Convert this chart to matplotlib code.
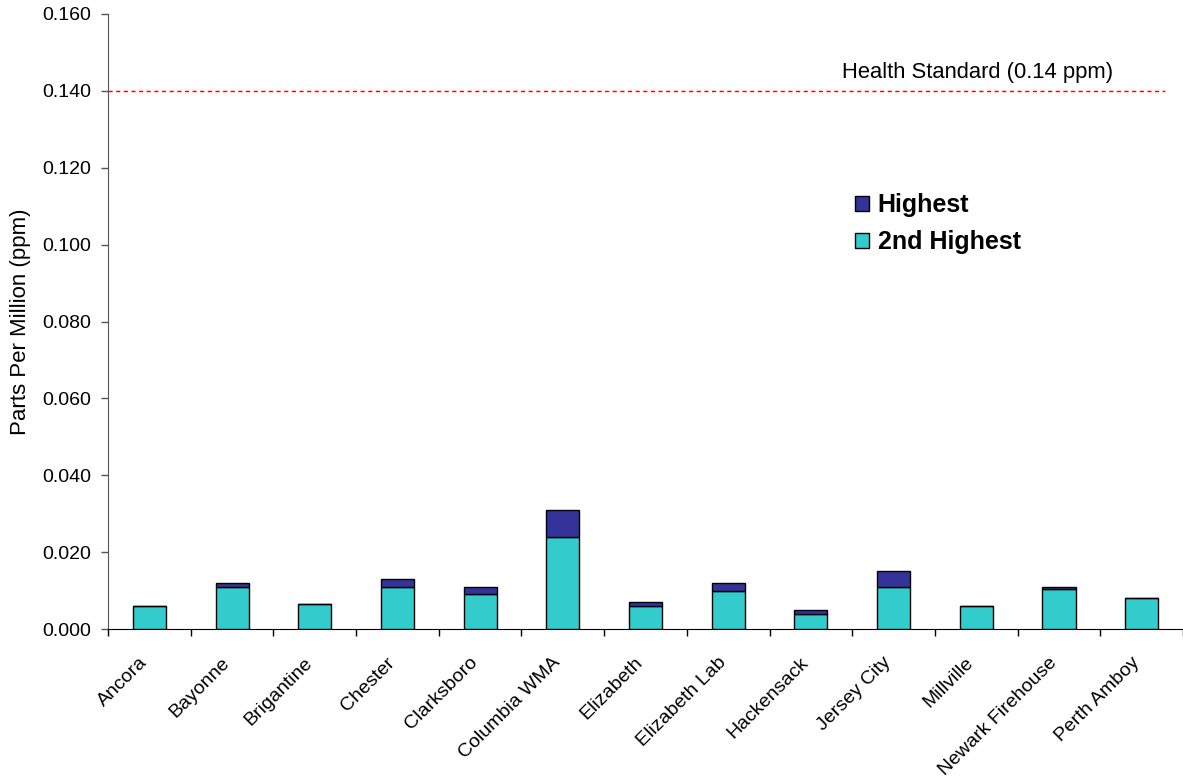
import numpy as np
import matplotlib
matplotlib.use('Agg')
import matplotlib.pyplot as plt
import matplotlib.transforms as mtransforms

plt.rcParams['font.family'] = ['Liberation Sans', 'DejaVu Sans']

sites = ['Ancora', 'Bayonne', 'Brigantine', 'Chester', 'Clarksboro', 'Columbia WMA',
         'Elizabeth', 'Elizabeth Lab', 'Hackensack', 'Jersey City', 'Millville',
         'Newark Firehouse', 'Perth Amboy']
second_highest = [0.006, 0.011, 0.0064, 0.011, 0.009, 0.024, 0.006, 0.010, 0.004,
                  0.011, 0.006, 0.0103, 0.008]
highest = [0.006, 0.012, 0.0064, 0.013, 0.011, 0.031, 0.007, 0.012, 0.005,
           0.015, 0.006, 0.0108, 0.008]
health_standard = 0.14
yticks = [0.0, 0.02, 0.04, 0.06, 0.08, 0.10, 0.12, 0.14, 0.16]

W, H = 1183, 776
fig = plt.figure(figsize=(W / 100, H / 100), dpi=100)
left, right, bottom, top = 108, 1183, 629, 14
ax = fig.add_axes([left / W, 1 - bottom / H, (right - left) / W, (bottom - top) / H])

x = np.arange(len(sites))
lower = np.array(second_highest)
upper = np.array(highest) - lower
ax.bar(x, lower, width=0.4, color='#33CCCC', edgecolor='black', linewidth=1.0,
       label='2nd Highest', zorder=3)
ax.bar(x, upper, bottom=lower, width=0.4, color='#333399', edgecolor='black',
       linewidth=1.0, label='Highest', zorder=3)

slot = 83.5
xmax = (right - left) / slot - 0.5
ax.set_xlim(-0.5, xmax)
ax.set_ylim(0, 0.16)

line_end = (1175 - left) / slot - 0.5
ax.hlines(health_standard, -0.5, line_end, colors='red', linestyles=(0, (3, 2.5)),
          linewidth=1.0, zorder=2)
ax.text((986 - left) / slot - 0.5, health_standard + 0.0048, 'Health Standard (0.14 ppm)',
        ha='center', va='center', fontsize=15.8)

ax.set_yticks(yticks)
ax.set_yticklabels([f'{v:.3f}' for v in yticks], fontsize=14)
ax.set_xticks(x)
ax.set_xticklabels(sites, rotation=45, ha='right', va='top', rotation_mode='anchor',
                   fontsize=14)
ax.set_xticks(np.arange(-0.5, len(sites), 1.0), minor=True)
ax.tick_params(axis='x', which='major', length=0, pad=18)
ax.tick_params(axis='x', which='minor', length=5, direction='out', width=1)
ax.tick_params(axis='y', length=5, direction='out', width=1, pad=7, color='#555555')
ax.set_ylabel('Parts Per Million (ppm)', fontsize=16, labelpad=8)

# nudge the slanted labels left, like the original
shift = mtransforms.ScaledTranslation(-11 / 100, 0, fig.dpi_scale_trans)
for lab in ax.get_xticklabels():
    lab.set_transform(lab.get_transform() + shift)

for s in ['top', 'right']:
    ax.spines[s].set_visible(False)
ax.spines['left'].set_color('#555555')

handles, labels = ax.get_legend_handles_labels()
leg = ax.legend(handles[::-1], labels[::-1], loc='upper left',
                bbox_to_anchor=((845 - left) / (right - left), 1 - (183 - top) / (bottom - top)),
                frameon=False, prop={'weight': 'bold', 'size': 18},
                handlelength=0.55, handleheight=0.55, handletextpad=0.35,
                labelspacing=0.53, borderaxespad=0)

fig.savefig('out.png', dpi=100, facecolor='white')
